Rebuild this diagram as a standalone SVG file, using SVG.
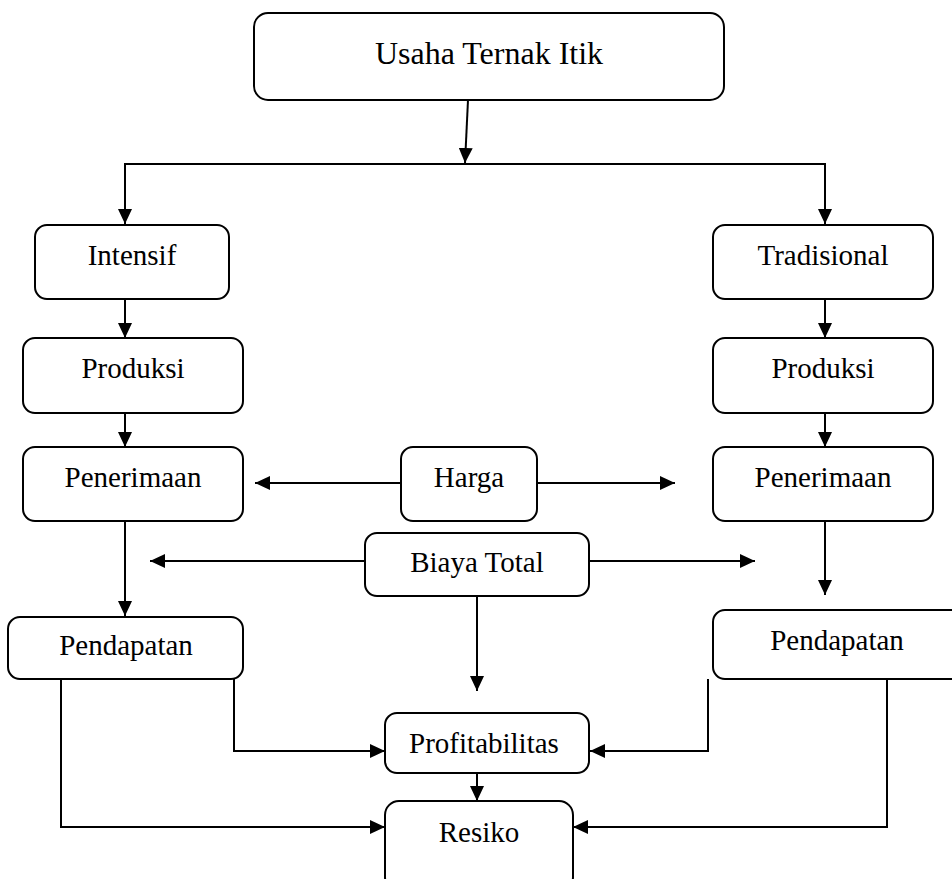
<svg xmlns="http://www.w3.org/2000/svg" width="952" height="879" viewBox="0 0 952 879">
<style>
.box{fill:#fff;stroke:#000;stroke-width:2}
.t{font-family:"Liberation Serif","Times New Roman",serif;font-size:29px;fill:#000;text-anchor:middle}
.tt{font-size:32px}
.c{fill:none;stroke:#000;stroke-width:2}
</style>
<defs>
<marker id="ah" viewBox="0 0 15 14" refX="15" refY="7" markerWidth="15" markerHeight="14" markerUnits="userSpaceOnUse" orient="auto">
<path d="M0,0 L15,7 L0,14 z" fill="#000"/>
</marker>
</defs>
<rect width="952" height="879" fill="#fff"/>
<g id="connectors">
<line class="c" x1="468" y1="100" x2="465" y2="163" marker-end="url(#ah)"/>
<polyline class="c" points="125,164 825,164 825,224" marker-end="url(#ah)"/>
<line class="c" x1="125" y1="163" x2="125" y2="224" marker-end="url(#ah)"/>
<line class="c" x1="125" y1="299" x2="125" y2="338" marker-end="url(#ah)"/>
<line class="c" x1="125" y1="413" x2="125" y2="447" marker-end="url(#ah)"/>
<line class="c" x1="825" y1="299" x2="825" y2="338" marker-end="url(#ah)"/>
<line class="c" x1="825" y1="413" x2="825" y2="447" marker-end="url(#ah)"/>
<line class="c" x1="401" y1="483" x2="255" y2="483" marker-end="url(#ah)"/>
<line class="c" x1="537" y1="483" x2="675" y2="483" marker-end="url(#ah)"/>
<line class="c" x1="365" y1="561" x2="150" y2="561" marker-end="url(#ah)"/>
<line class="c" x1="589" y1="561" x2="755" y2="561" marker-end="url(#ah)"/>
<line class="c" x1="477" y1="596" x2="477" y2="691" marker-end="url(#ah)"/>
<line class="c" x1="125" y1="521" x2="125" y2="616" marker-end="url(#ah)"/>
<line class="c" x1="825" y1="521" x2="825" y2="595" marker-end="url(#ah)"/>
<polyline class="c" points="234,679 234,751 385,751" marker-end="url(#ah)"/>
<polyline class="c" points="61,679 61,827 385,827" marker-end="url(#ah)"/>
<polyline class="c" points="708,679 708,751 590,751" marker-end="url(#ah)"/>
<polyline class="c" points="887,679 887,827 573,827" marker-end="url(#ah)"/>
<line class="c" x1="477" y1="773" x2="477" y2="801" marker-end="url(#ah)"/>
</g>
<g id="usaha"><rect class="box" x="254" y="13" width="470" height="87" rx="14"/><text class="t tt" x="489" y="64">Usaha Ternak Itik</text></g>
<g id="intensif"><rect class="box" x="35" y="225" width="194" height="74" rx="12"/><text class="t" x="132" y="265">Intensif</text></g>
<g id="produksi1"><rect class="box" x="23" y="338" width="220" height="75" rx="12"/><text class="t" x="133" y="378">Produksi</text></g>
<g id="penerimaan1"><rect class="box" x="23" y="447" width="220" height="74" rx="12"/><text class="t" x="133" y="487">Penerimaan</text></g>
<g id="tradisional"><rect class="box" x="713" y="225" width="220" height="74" rx="12"/><text class="t" x="823" y="265">Tradisional</text></g>
<g id="produksi2"><rect class="box" x="713" y="338" width="220" height="75" rx="12"/><text class="t" x="823" y="378">Produksi</text></g>
<g id="penerimaan2"><rect class="box" x="713" y="447" width="220" height="74" rx="12"/><text class="t" x="823" y="487">Penerimaan</text></g>
<g id="harga"><rect class="box" x="401" y="447" width="136" height="74" rx="12"/><text class="t" x="469" y="487">Harga</text></g>
<g id="biaya"><rect class="box" x="365" y="533" width="224" height="63" rx="12"/><text class="t" x="477" y="572">Biaya Total</text></g>
<g id="pendapatan1"><rect class="box" x="8" y="617" width="235" height="62" rx="12"/><text class="t" x="126" y="655">Pendapatan</text></g>
<g id="pendapatan2"><rect class="box" x="713" y="610" width="250" height="69" rx="12"/><text class="t" x="837" y="650">Pendapatan</text></g>
<g id="profitabilitas"><rect class="box" x="385" y="713" width="204" height="60" rx="12"/><text class="t" x="484" y="753">Profitabilitas</text></g>
<g id="resiko"><rect class="box" x="385" y="801" width="188" height="90" rx="14"/><text class="t" x="479" y="842">Resiko</text></g>
</svg>
